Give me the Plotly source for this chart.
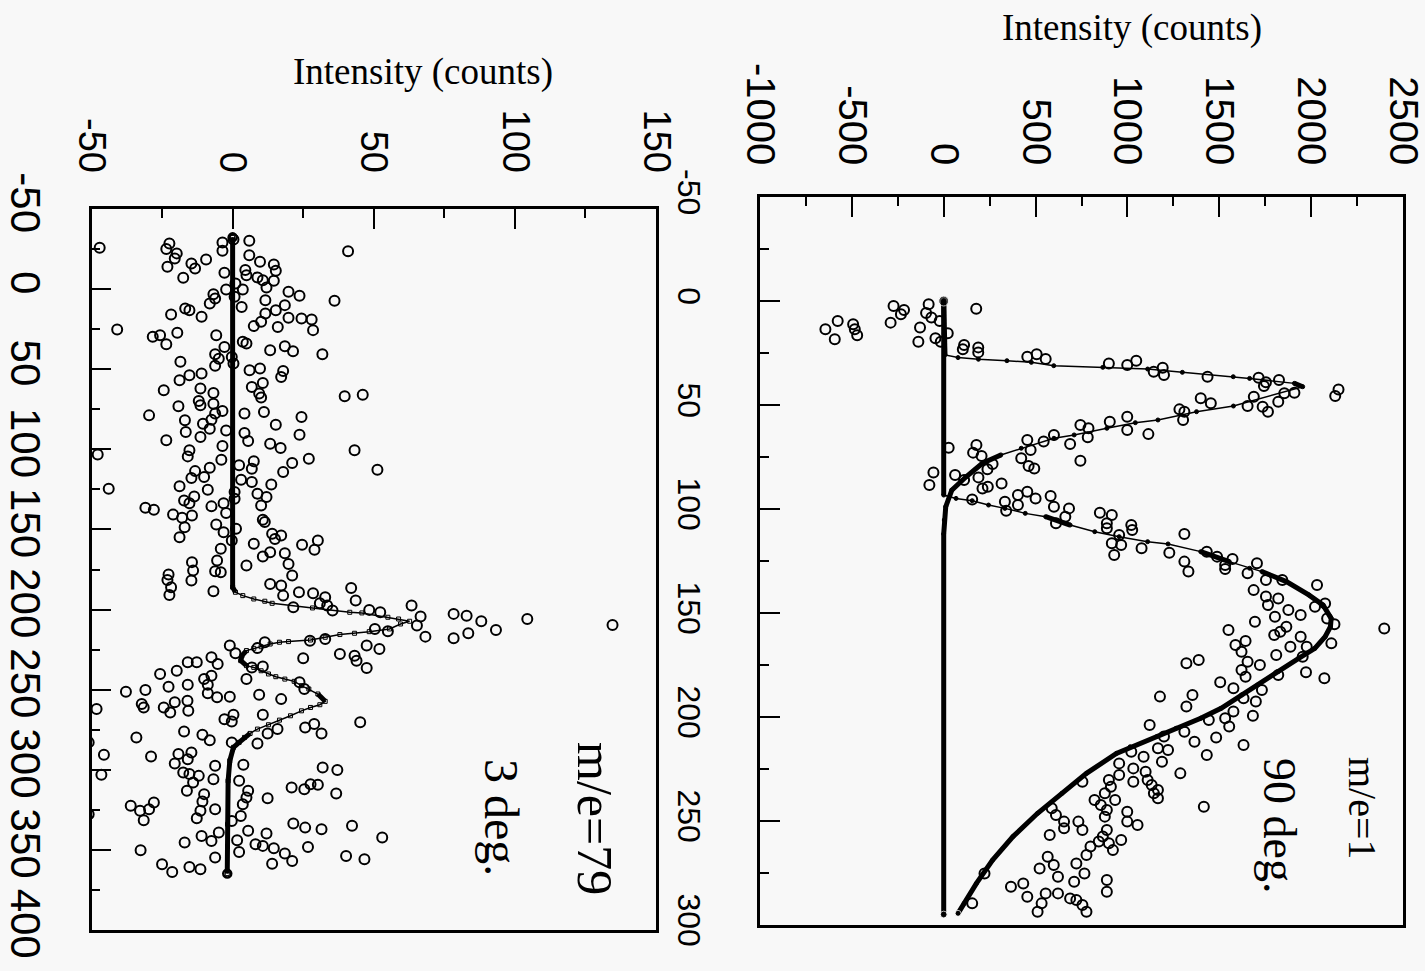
import plotly.graph_objects as go

W, H = 1425, 971

# ---------------- data: top panel (m/e=1, 90 deg) : (time, counts) ----------------
top_points = [
    (13.6,-644),(9.6,-577),(18.4,-593),(11.2,-493),(13.6,-484),(16.5,-471),(10.4,-289),(2.4,-273),
    (6.4,-233),(4.3,-216),(19.6,-138),(12.7,-129),(1.6,-82),(5.8,-96),(7.9,-67),(17.9,-45),(9.6,-22),
    (19.6,-16),(15.5,22),(3.7,177),(23.2,104),(21.2,111),(22.3,188),(24.7,188),(26.8,455),(25.6,506),
    (27.9,555),(30,899),(30.8,999),(28.7,1048),(34,1143),(32.1,1192),(35.6,1199),(36.4,1436),(36.9,1714),
    (39.1,1754),(38,1825),
    (42.5,2149),(45.7,2131),(40.9,1743),(44.1,1909),(44.4,1854),(48.4,1821),(53.2,1765),(50.8,1736),
    (46,1688),(50.5,1654),(49.2,1454),(46.8,1399),(53.2,1310),(52.1,1283),(57.2,1303),(55.6,999),(62,999),
    (58,904),(64,1114),(61.2,788),(65.5,784),(59.6,744),(68.7,688),(76.8,744),(64.4,600),(67.6,544),
    (66.8,455),(71.6,473),(75.6,422),(79.3,462),(80.5,493),(69.2,178),(72.9,160),(74.5,206),(78.4,266),
    (80.9,238),(84.8,189),(90.1,211),(89.3,240),(87.7,315),(86.1,111),(83.7,62),(70.5,27),(82.5,-56),
    (88.5,-78),
    (95.4,155),(96.5,333),(100.8,340),(93.3,404),(98.1,404),(91.7,455),(94.9,500),(93.8,582),(98.9,600),
    (99.7,682),(103.7,662),(106.9,611),(101.8,850),(102.9,915),(106.9,888),(109.3,888),(107.7,1021),
    (110.1,1026),(112.5,955),(116.5,915),(117.3,966),(122.1,928),(118.9,1077),(121,1228),(112,1310),
    (125.3,1310),(120.5,1432),(122.9,1488),(124,1572),(126.9,1532),(126.1,1705),
    (130.1,1332),(128.8,1532),(130.9,1654),(134.1,1754),(134.1,1843),(136.5,2032),(139,1687),(142.1,1754),
    (143,1821),(146.2,1765),(148.6,1876),(151,1943),(145.4,2076),(147,2021),(152.6,2087),(155.4,2127),
    (164.6,2110),(151.8,1803),(156.6,1865),(160.6,1799),(159,1832),(154.2,1694),(158.2,1550),(163.5,1643),
    (165.4,1588),(168.6,1621),(161.4,1943),(166.2,1887),(166.2,1976),(170.2,1810),(171,1954),(175,1721),
    (173.4,1654),(177.4,1621),(180.6,1643),(179.8,1821),(178.5,1972),(181.4,2072),(174.2,1321),(172.6,1388),
    (183.3,1505),(186.2,1577),(187,1732),(192.6,1699),(191,1632),(199.4,1683),(197.4,1577),(200.6,1532),
    (204.6,1554),(201.4,1443),(209.9,1483),(213.5,1632),(189.4,1354),(190.2,1177),(195,1321),(203.8,1121),
    (207.1,1310),(211.9,1365),(209.4,1199),(215,1166),(215.9,1221),(218.3,1432),(216.7,1021),(157.4,2398),
    (219.1,1088),(221.5,1188),(227.1,1288),(243.1,1416),(222.3,955),(224.7,1032),(226.3,1099),(230.3,1110),
    (231.1,1032),(227.9,955),(230.3,899),(233.5,910),(236.7,877),(239.9,933),(232.7,1132),(235.1,1166),
    (236.7,1144),(239.1,1166),(239.9,821),(242.3,855),(244.7,888),(247.9,877),(245.5,999),(251.9,1055),
    (250.3,999),(231.1,755),(243.9,588),(247.1,611),(250.3,655),(253.5,655),(250.3,733),(254.3,755),
    (256.7,577),(254.3,888),(257.5,866),(260.7,899),(259.9,844),(259.1,966),(264,921),(262.3,799),
    (266.3,777),(270.4,722),(275.2,766),(279.2,710),(267.2,566),(271.2,599),(276.8,622),(272.8,522),
    (278.4,888),(284,888),(281.6,366),(280,433),(286.4,455),(289.6,533),(284.8,555),(284.8,622),
    (287.2,688),(288,722),(293.6,777),(290.4,755),(293.6,511),(275.2,222),(289.6,155),
]

# fit, fast component
fast_time = [0, 25.9, 27.2, 28.0, 28.7, 29.5, 31.1, 31.9, 32.7, 34.3, 36.4, 37.2, 39.6, 41.2,
             50.5, 53.2, 57.2, 58.5, 61.2, 64.4, 66.0, 70.8, 74.0, 78.0, 84.5, 90.9, 98.9,
             105.3, 112, 295]
fast_counts = [0, 7, 78, 189, 344, 477, 599, 866, 1110, 1299, 1576, 1665, 1909, 1954,
               1577, 1376, 1166, 1043, 888, 710, 600, 422, 311, 211, 122, 44, 11,
               3, 0, 0]
# fit, slow component
slow_time = [0, 93.3, 94.9, 96.0, 98.1, 99.7, 102.1, 103.7, 107.7, 110.9, 113.3, 115.7, 116.8,
             120.5, 125.3, 128.5, 130.1, 134.9, 141.3, 146.2, 152.6, 156.6, 161.4, 167, 171.8,
             178.2, 184.6, 189.4, 195.8, 200.6, 205.4, 209.4, 214.3, 217.5, 227.1, 236.7, 246.3,
             257.5, 268.8, 280, 289.6, 294.4]
slow_counts = [0, 0, 67, 155, 244, 333, 444, 555, 688, 822, 955, 1110, 1221,
               1399, 1554, 1665, 1732, 1865, 1987, 2065, 2109, 2105, 2076, 2020, 1932,
               1820, 1709, 1621, 1510, 1399, 1265, 1160, 1015, 940, 777, 644, 511,
               377, 266, 178, 111, 78]

# ---------------- data: bottom panel (m/e=79, 3 deg) ----------------
bot_points = [
    (-25.8,-47.1),(-28.5,-22.4),(-25,-23.5),(-22.3,-19.8),(-19.1,-20.5),(-13.9,-23.1),(-7.1,-17.5),
    (-16,-14.6),(-12.9,-13.3),(-18.5,-9.4),(-29.1,-3.6),(-23.9,-3.6),(-31,0.3),(-30.2,5.9),(-21.2,5.9),
    (-17.1,9.7),(-15.4,14.6),(-11.4,15.3),(-11.9,4.5),(-8.7,4.9),(-7.3,8.8),(-5.6,10.7),(-5.2,14.6),
    (-1,12),(-10.2,-2.9),(0.2,-2.3),(-3.5,1),(0.2,3.6),(4.8,0.7),(11.1,3.2),(-23.7,40.9),(7.3,36.1),
    (1.7,19.8),(4.2,23.7),(10,18.5),(13.2,15.3),(17.9,19.8),(6.9,11.6),(15.2,11.6),(20.4,10.1),
    (23.1,7.5),(23.6,16),(18.4,24.4),(19,28),(25.6,28.5),(3.2,-6.8),(9,-8.1),(5.9,-6.2),(12.1,-16.8),
    (13.2,-15.3),(17.3,-11),(15.9,-21.8),(25.2,-40.9),(29.8,-28.3),(28.8,-25.7),(34.4,-23.5),
    (27.3,-19.6),(28.8,-5.8),(36.1,-2.9),(40.7,-6.2),(43.4,-4.9),(47.9,-6.2),(42.3,-0.3),(46.5,0.3),
    (32.9,3.6),(34,4.9),(38.2,13.3),(35.6,18.5),(38.8,21.4),(40.6,31.8),(45.4,-18.5),(50.6,6),
    (49.6,9.7),(51.1,17.9),(54.8,17.2),(52.7,-11),(53.8,-15.3),(56.9,-18.8),(58.6,10.7),
    (63.1,-24.4),(62.1,-11.4),(64.8,-6.8),(69.8,-12),(72.5,-11.4),(71.5,-6.8),(76.1,-3.6),(77.7,-6.2),
    (61.1,6.8),(65.2,9.4),(67.7,10.1),(76.7,11.1),(77.7,4.2),(66.9,39.7),(65.9,46.1),(73.1,-19.2),
    (78.8,-29.6),(81.9,-16.9),(89.2,-16.6),(84,-10.5),(81.5,-7.5),(87.1,-8.1),(92.3,-11.4),(94.4,-23.5),
    (88.2,-2.3),(89.8,4.2),(94.8,5.5),(84.6,15.3),(79.8,24.4),(90.9,23.7),(96.5,13.3),(99.2,17),
    (100.6,-15.3),(104.4,-15.9),(97.9,-3.6),(106.5,-4),(110,2.3),(107.5,7.5),(112.1,6.8),(119,3),
    (120.4,6.8),(121.9,13.7),(114.2,17.9),(108.6,21.1),(105.9,27),(100.6,43.2),(112.7,51.3),
    (103.2,-47.8),(124.6,-43.9),(113.6,-13.3),(117.9,-14.6),(117.3,-10.1),(111.5,-8.1),(125.2,-8.8),
    (123.1,-18.8),(129.4,-13.6),(131.9,-17.2),(133.6,-15.3),(135.6,-7.5),(133.6,-3.2),(139.8,-2.3),
    (126.7,0.7),(130.9,0.7),(127.7,8.8),(129.8,12),(135,10.1),(136.5,-30.9),(137.7,-27.9),(140.7,-21.1),
    (142.7,-17.9),(141.3,-14.4),(148.6,-17),(154.8,-18.8),(146.9,-5.8),(151.7,-3.2),(149.6,1.2),
    (144,10.7),(145.4,11.4),(152.7,14),(153.8,17.2),(155.9,15),(159,7.5),(159.6,24.6),(156.9,30.2),
    (162.7,29),(164.8,18.5),(164.2,13.3),(166.9,10.7),(162.1,-4.2),(156.9,-0.3),(170.4,-14.4),
    (169.4,-5.5),(172.5,4.9),(171.5,19.8),
    (178.1,-22.7),(181.5,-23.1),(186.1,-21.8),(190.9,-22.4),(175.7,-14),(181.9,-14.6),(188.6,-6.8),
    (176.1,-6.2),(176.7,-4.2),(178.8,21.1),(184,13.3),(185,17.2),(191.3,17.9),(198.6,21.5),(189.2,23.5),
    (189.8,28.5),(192.3,32.8),(196.1,30.9),(197.5,33.5),(200.6,35.4),(186.5,42),(194.4,43.6),
    (200.2,48.4),(201.7,52.3),(197.5,63.4),(204.4,66.6),(210,65.3),(216.9,68.3),(202.7,78.3),
    (203.8,82.9),(207.3,88.1),(212.7,93.3),(205.9,104.4),(209.6,134.6),(217.9,78.3),(214.8,83.5),
    (212.1,50.4),(213.6,55),(222.5,47.5),(224.6,52),(227.7,38),(228.8,43.2),(231.9,43.9),(236.5,47.5),
    (230.4,25),(218.4,32.8),(219.4,27.4),(220.4,11.4),(224,8.8),(222.5,-1),(227.3,1),(229.8,-7.5),
    (234,-5.3),(232.9,-12.7),(232.9,-15.9),(238.2,-19.8),(240.2,-25.7),(241.3,-7.5),(243.4,-10.1),
    (246.9,-8.8),(246.9,-15.9),(248.2,-22.7),(250.2,-30.9),(251.3,-37.8),(259,-32.2),(261.1,-31.5),
    (261.1,-24.4),(264.2,-22.1),(257.9,-20.5),(256.9,-16),(263.1,-15.7),(252.3,-8.8),(254.8,-5.5),
    (254.4,-1),(243.4,4.9),(236.1,6.8),(235.6,10.7),(253.2,9.4),(255.9,17.2),(245.4,23.7),(249.6,25.4),
    (265.6,10.7),(268.4,-2.9),(265.6,0.3),(269.8,-0.3),(277.3,12.4),(274.6,15.9),(273.6,25.7),
    (271.5,28.9),(277.3,31.5),(270.4,45.2),(276.1,-17.2),(278.1,-10.7),(281.5,-8.1),(279.8,-34.1),
    (262.1,-48.2),(282.9,-51),(282.9,-0.3),(283.6,8.8),
    (290.6,-45.6),(303.1,-46.5),(327.7,-51),(291.7,-28.9),(290.2,-19.2),(289.2,-14.6),(296.1,-20.5),
    (293.4,-15.9),(301.7,-17.5),(302.7,-15.3),(303.8,-12),(307.9,-14),(313.1,-16.2),(315.2,-10.1),
    (319.8,-10.7),(325.6,-11.4),(330.2,-12.7),(297.5,-6.2),(305.9,-6.8),(324.6,-6.2),(296.9,3.8),
    (306.9,2.3),(313.1,5.5),(317.3,4.9),(321.5,3.6),(328.8,2.9),(331.9,-0.3),(317.7,12.4),(311.1,20.9),
    (312.1,25.4),(309.4,30.2),(309,27.6),(298.6,31.9),(300.2,37.1),(314.8,36.7),(322.5,-36.1),
    (325.6,-32.8),(324.6,-29.6),(320.4,-27.9),(331.5,-31.5),(333.6,21.5),(336.1,25.7),(337.1,31.5),
    (335,42.3),(342.3,53),(338.1,5.5),(339.8,12),(346.5,8.1),(347.5,10.7),(349,14.6),(352.3,18.5),
    (356.9,21.1),(358.6,14),(348.2,26.7),(353.8,40.2),(355.9,46.7),(344,1.6),(351.3,2.3),(354.8,-6.2),
    (339.2,-4.9),(344.4,-7.5),(341.3,-11),(345.4,-17),(350.2,-32.6),(359,-25),(363.8,-21.4),
    (360.7,-15.3),(362.1,-11.4),
]

fit79_time = [-32.3, 186, 189.2, 191.3, 193.4, 194.8, 196.1, 199, 201.7, 202.1, 204.8, 205.9, 207.3,
              209, 212.1, 213.8, 214.8, 215.6, 217.3, 219, 220, 220.4, 221.5, 223.2, 224.2, 225.6,
              228.8, 231.9, 235, 236.1, 238.2, 240.2, 241.9, 243.4, 244.8, 247.5, 249.6, 252.7,
              257.3, 259.4, 261.1, 263.2, 266.3, 269, 271.9, 274.6, 277.3, 279.8, 282.9, 286,
              294.4, 306.9, 334, 364.8]
fit79_counts = [0, 0, 1, 3.6, 7.5, 11.4, 14, 28.3, 41.5, 45.8, 55, 58.8, 62.7,
                59.5, 55.6, 48.4, 43.2, 38, 32.8, 27.6, 19.8, 16.6, 13.3, 10.1, 7.5, 4.9,
                3.3, 2.9, 4.9, 7.5, 10.1, 12.7, 15.3, 18.5, 21.8, 24.4, 27, 30.2,
                32.8, 30.9, 27.6, 24.4, 20.5, 16.6, 12.7, 8.8, 6.2, 4.2, 2.3, 0.3,
                -1, -1.6, -1.8, -1.9]

# axis ranges / tick steps: (low, high, major step, minor step)
top_counts_axis = (-1000, 2500, 500, 250)
top_time_axis = (-50, 300, 50, 25)
bot_counts_axis = (-50, 150, 50, 25)
bot_time_axis = (-50, 400, 50, 25)

# ---------------- layout geometry (pixels) ----------------
TOP_X = (760, 1403); TOP_Y = (197, 925)
BOT_X = (91.5, 656); BOT_Y = (209, 930)

def dom_x(a, b):
    return [a / W, b / W]

def dom_y(top, bottom):
    return [1 - bottom / H, 1 - top / H]

BG = "#f8f8f8"
INK = "black"

fig = go.Figure()

def add_panel_data(points, xa, ya):
    fig.add_trace(go.Scatter(
        x=[p[1] for p in points], y=[p[0] for p in points], mode="markers",
        xaxis=xa, yaxis=ya, showlegend=False, hoverinfo="skip",
        marker=dict(symbol="circle-open", size=10, color=INK, line=dict(width=2, color=INK))))

def add_fit(ts, vs, xa, ya, ppx_v, ppx_t, thr, msym, msize):
    fig.add_trace(go.Scatter(
        x=vs, y=ts, mode="lines+markers", xaxis=xa, yaxis=ya, showlegend=False,
        hoverinfo="skip", line=dict(color=INK, width=1.5),
        marker=dict(symbol=msym, size=msize, color=INK, line=dict(width=1, color=INK))))
    # thick overlay where the sampled curve is dense (slowly varying)
    xs, ys = [], []
    run = False
    for i in range(len(ts) - 1):
        dt = abs(ts[i + 1] - ts[i]) * ppx_t
        dv = abs(vs[i + 1] - vs[i]) * ppx_v
        dense = dv < 1.0 or (dt > 0 and dv / dt < thr)
        if dense:
            if not run:
                xs.append(vs[i]); ys.append(ts[i])
            xs.append(vs[i + 1]); ys.append(ts[i + 1])
            run = True
        else:
            if run:
                xs.append(None); ys.append(None)
            run = False
    fig.add_trace(go.Scatter(
        x=xs, y=ys, mode="lines", xaxis=xa, yaxis=ya, showlegend=False,
        hoverinfo="skip", line=dict(color=INK, width=5)))

top_ppx_v = (TOP_X[1] - TOP_X[0]) / (top_counts_axis[1] - top_counts_axis[0])
top_ppx_t = (TOP_Y[1] - TOP_Y[0]) / (top_time_axis[1] - top_time_axis[0])
bot_ppx_v = (BOT_X[1] - BOT_X[0]) / (bot_counts_axis[1] - bot_counts_axis[0])
bot_ppx_t = (BOT_Y[1] - BOT_Y[0]) / (bot_time_axis[1] - bot_time_axis[0])

add_panel_data(top_points, "x", "y")
add_fit(fast_time, fast_counts, "x", "y", top_ppx_v, top_ppx_t, 3.0, "circle", 4)
add_fit(slow_time, slow_counts, "x", "y", top_ppx_v, top_ppx_t, 3.0, "circle", 4)
fig.add_trace(go.Scatter(
    x=[slow_counts[0], fast_counts[-1], slow_counts[-1]],
    y=[slow_time[0], fast_time[-1], slow_time[-1]],
    mode="markers", xaxis="x", yaxis="y", showlegend=False, hoverinfo="skip",
    marker=dict(symbol="circle", size=[10, 7, 6], color=INK)))

add_panel_data(bot_points, "x2", "y2")
add_fit(fit79_time, fit79_counts, "x2", "y2", bot_ppx_v, bot_ppx_t, 1.5, "square-open", 4)
fig.add_trace(go.Scatter(
    x=[fit79_counts[0], fit79_counts[-1]], y=[fit79_time[0], fit79_time[-1]],
    mode="markers", xaxis="x2", yaxis="y2", showlegend=False, hoverinfo="skip",
    marker=dict(symbol="circle-open", size=8, color=INK, line=dict(width=2.5, color=INK))))

tick_font_family = "Liberation Sans, Arial, sans-serif"

def axis(domain, anchor, side, spec, fsize, standoff, reverse=False):
    lo, hi, step, mstep = spec
    vals = list(range(lo, hi + 1, step))
    return dict(
        domain=domain, anchor=anchor, side=side,
        range=[hi, lo] if reverse else [lo, hi],
        tickmode="array", tickvals=vals, ticktext=[str(v) for v in vals],
        ticks="inside", ticklen=20, tickwidth=2, tickcolor=INK,
        minor=dict(tickmode="linear", tick0=lo, dtick=mstep, ticks="inside",
                   ticklen=9, tickwidth=2, tickcolor=INK),
        showline=True, linewidth=2.5, linecolor=INK, mirror=True, showgrid=False,
        zeroline=False, tickangle=90, ticklabelstandoff=standoff, automargin=False,
        ticklabeloverflow="allow",
        tickfont=dict(family=tick_font_family, size=fsize, color=INK))

fig.update_layout(
    width=W, height=H, autosize=False,
    margin=dict(l=0, r=0, t=0, b=0, pad=0),
    paper_bgcolor=BG, plot_bgcolor=BG,
    xaxis=axis(dom_x(*TOP_X), "y", "top", top_counts_axis, 40, 15),
    yaxis=axis(dom_y(*TOP_Y), "x", "left", top_time_axis, 32, 41, reverse=True),
    xaxis2=axis(dom_x(*BOT_X), "y2", "top", bot_counts_axis, 38, 20),
    yaxis2=axis(dom_y(*BOT_Y), "x2", "left", bot_time_axis, 42, 27, reverse=True),
)

serif = "Liberation Serif, Times New Roman, serif"

def label(text, cx, cy, size, angle=0):
    fig.add_annotation(
        text=text, x=cx / W, y=1 - cy / H, xref="paper", yref="paper",
        xanchor="center", yanchor="middle", showarrow=False, textangle=angle,
        font=dict(family=serif, size=size, color=INK))

label("Intensity (counts)", 1132, 28, 37)
label("Intensity (counts)", 423, 72, 37)
label("m/e=1", 1363, 808, 40, 90)
label("90 deg.", 1280, 825, 46, 90)
label("m/e=79", 595, 818, 50, 90)
label("3 deg.", 502, 817, 48, 90)

fig.write_html("out.html", config={"displayModeBar": False},
               post_script="document.body.style.margin='0px';")
